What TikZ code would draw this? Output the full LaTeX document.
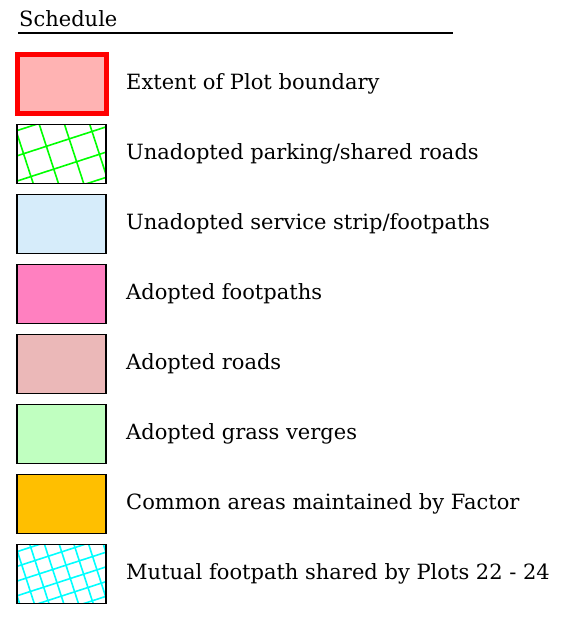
\documentclass[tikz,border=0pt]{standalone}
\usepackage{fontspec}
\setmainfont{DejaVu Serif}
\usetikzlibrary{positioning}
\definecolor{plotfill}{HTML}{FFB3B3}
\definecolor{stripfill}{HTML}{D6ECFA}
\definecolor{pathfill}{HTML}{FF80C0}
\definecolor{roadfill}{HTML}{EBB8B8}
\definecolor{vergefill}{HTML}{C0FFC0}
\definecolor{factorfill}{HTML}{FFBF00}
\definecolor{hatchgreen}{HTML}{00FF00}
\definecolor{hatchcyan}{HTML}{00FFFF}
\tikzset{
  keybox/.style={draw=black, line width=1.8pt, minimum width=89pt, minimum height=59pt, inner sep=0pt, outer sep=0pt},
  keytext/.style={inner sep=0pt, anchor=west, font=\fontsize{21}{24}\selectfont}
}
% rotated grid hatching inside a key box: node, colour, spacing, count
\newcommand{\gridhatch}[4]{%
  \begin{scope}
    \clip (#1.north west) rectangle (#1.south east);
    \begin{scope}[shift={(#1.center)}, rotate=18]
      \foreach \k in {-#4,...,#4} {
        \draw[#2, line width=1.6pt] (\k*#3+#3/2,-90) -- (\k*#3+#3/2,90);
        \draw[#2, line width=1.6pt] (-90,\k*#3+#3/2) -- (90,\k*#3+#3/2);
      }
    \end{scope}
  \end{scope}
  \draw[line width=1.8pt] (#1.north west) rectangle (#1.south east);}
\begin{document}
\begin{tikzpicture}[x=1pt,y=-1pt]
        \useasboundingbox (0,0) rectangle (588,618);
        \node[inner sep=0pt, anchor=base west, font=\fontsize{21}{24}\selectfont] (title) at (19,27) {Schedule};
        \coordinate (rulel) at (18,33);
        \coordinate (ruler) at (453,33);
        \draw[line width=2pt] (rulel) -- (ruler);
        \node[keybox, draw=red, line width=5pt, fill=plotfill] (b1) at (61.5,84) {};
        \node[keybox] (b2) at (61.5,154) {};
        \node[keybox, fill=stripfill] (b3) at (61.5,224) {};
        \node[keybox, fill=pathfill] (b4) at (61.5,294) {};
        \node[keybox, fill=roadfill] (b5) at (61.5,364) {};
        \node[keybox, fill=vergefill] (b6) at (61.5,434) {};
        \node[keybox, fill=factorfill] (b7) at (61.5,504) {};
        \node[keybox] (b8) at (61.5,574) {};
        \gridhatch{b2}{hatchgreen}{24}{4}
        \gridhatch{b8}{hatchcyan}{14}{7}
        \node[keytext, right=20pt of b1] (t1) {Extent of Plot boundary};
        \node[keytext, right=20pt of b2] (t2) {Unadopted parking/shared roads};
        \node[keytext, right=20pt of b3] (t3) {Unadopted service strip/footpaths};
        \node[keytext, right=20pt of b4] (t4) {Adopted footpaths};
        \node[keytext, right=20pt of b5] (t5) {Adopted roads};
        \node[keytext, right=20pt of b6] (t6) {Adopted grass verges};
        \node[keytext, right=20pt of b7] (t7) {Common areas maintained by Factor};
        \node[keytext, right=20pt of b8] (t8) {Mutual footpath shared by Plots 22 - 24};
    \end{tikzpicture}
\end{document}
